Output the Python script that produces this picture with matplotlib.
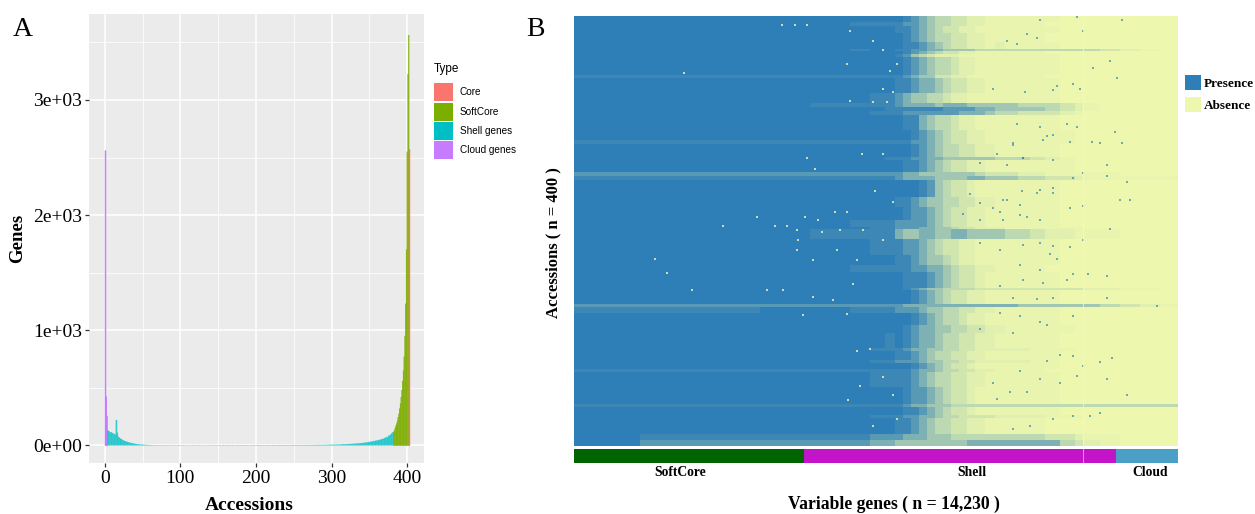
import numpy as np
import matplotlib
matplotlib.use("Agg")
import matplotlib.pyplot as plt
from matplotlib.colors import LinearSegmentedColormap
from matplotlib.patches import Patch

W, H = 1255, 514
plt.rcParams["font.family"] = ["Liberation Serif", "DejaVu Serif"]

# panel A: number of genes found in exactly n accessions
cloud_acc = [1, 2, 3]
cloud_genes = [2560, 423, 256]
shell_first_acc = 4
shell_genes = [
    135, 128, 124, 118, 114, 116, 110, 106, 104, 98,
    96, 220, 220, 112, 78, 72, 66, 60, 56, 52,
    48, 44, 42, 38, 36, 34, 32, 30, 28, 26,
    24, 22, 22, 20, 18, 17, 15, 14, 13, 12,
    11, 10, 10, 9, 9, 8, 8, 7, 7, 6,
    6, 6, 5, 5, 5, 5, 4, 5, 4, 3,
    4, 5, 3, 4, 3, 2, 4, 3, 3, 4,
    2, 3, 4, 3, 2, 3, 3, 2, 4, 3,
    2, 3, 4, 2, 3, 2, 3, 4, 2, 3,
    3, 2, 3, 2, 4, 3, 2, 3, 2, 3,
    4, 2, 3, 3, 2, 3, 2, 4, 2, 3,
    2, 3, 3, 2, 4, 2, 3, 2, 3, 3,
    2, 4, 3, 2, 3, 2, 3, 2, 4, 2,
    3, 3, 2, 3, 2, 4, 3, 2, 3, 3,
    2, 3, 4, 2, 3, 2, 3, 3, 2, 4,
    3, 2, 3, 5, 3, 2, 3, 4, 2, 3,
    3, 4, 2, 3, 2, 4, 3, 3, 2, 3,
    2, 3, 4, 3, 2, 4, 3, 2, 3, 4,
    3, 2, 4, 3, 3,
    4, 3, 2, 3, 4, 3, 2, 4, 3, 3,
    2, 4, 3, 3, 4, 2, 3, 4, 3, 3,
    4, 3, 2, 4, 3, 4, 3, 3, 4, 3,
    4, 2, 3, 4, 5, 3, 4, 3, 4, 3,
    4, 5, 3, 4, 3, 5, 4, 3, 4, 5,
    3, 4, 5, 4, 3, 5, 4, 4, 3, 5,
    4, 5, 3, 4, 5, 4, 4, 5, 3, 5,
    4, 5, 4, 3, 5, 4, 5, 4, 5, 4,
    5, 4, 6, 4, 5, 5, 4, 6, 5, 4,
    6, 5, 5, 6, 4, 6, 5, 6, 5, 6,
    5, 7, 6, 5, 7, 6, 6, 7, 6, 8,
    6, 7, 8, 7, 7, 8, 7, 9, 8, 8,
    9, 8, 10, 9, 9, 11, 10, 12, 10, 11,
    12, 11, 13, 12, 12, 14, 13, 15, 14, 16,
    15, 16, 17, 16, 18, 17, 18, 20, 19, 20,
    22, 21, 23, 24, 22, 25, 27, 26, 28, 30,
    31, 30, 33, 35, 34, 36, 38, 40, 38, 42,
    44, 45, 43, 48, 50, 52, 50, 55, 58, 56,
    62, 65, 70, 68, 76, 72, 84, 90, 86, 96,
    104, 110, 116,
]
soft_genes = [118, 130, 150, 170, 190, 215, 245, 275, 320, 364,
              420, 480, 560, 650, 770, 950, 1230, 1700, 2550, 3223, 3563]
core_genes = [2570]
type_names = ["Core", "SoftCore", "Shell genes", "Cloud genes"]
type_colors = ["#F8766D", "#7CAE00", "#00BFC4", "#C77CFF"]
x_ticks = [0, 100, 200, 300, 400]
y_ticks = [0, 1000, 2000, 3000]
y_tick_labels = ["0e+00", "1e+03", "2e+03", "3e+03"]

# panel B: share of present cells, per block of accessions and genes
gene_edges = [0, 1555, 2969, 4382, 5560, 6503, 6974, 7327, 7563, 7751, 7940,
              8128, 8317, 8505, 8694, 8882, 9070, 9259, 9448, 9683, 9919,
              10154, 10461, 10743, 11097, 11450, 11804, 11992, 12393, 12864,
              13335, 13806, 14230]
level_share = [0, 0.02, 0.06, 0.15, 0.25, 0.4, 0.58, 0.78, 0.92, 1]
band_ends = [6, 9, 16, 24, 31, 33, 35, 38, 55, 58,
             72, 81, 85, 88, 92, 106, 115, 119, 131, 134,
             145, 149, 153, 168, 178, 190, 196, 198, 207, 222,
             232, 238, 253, 255, 268, 271, 276, 287, 295, 309,
             312, 320, 323, 328, 331, 345, 361, 364, 371, 374,
             389, 394, 400]
band_levels = [
    "99999999987654433221111110000000",
    "99999888877654433221111100000000",
    "99999999887654332211111110000000",
    "99999999987654433221111100000000",
    "99999999988765433221211110000000",
    "99999899887766555544444444443210",
    "99999999987654332211111100000000",
    "99999999875432221111111110000000",
    "99999999987654432211111110000000",
    "88888888876553322111111100000000",
    "99999999887665433221111110000000",
    "99999988765544322111111110000000",
    "99998888766665666555554443210000",
    "99999998888888777766555543210000",
    "99999988877777776665443332100000",
    "99999999988654432211111110000000",
    "99999999998765433221111111000000",
    "88888888887765433221111111000000",
    "99999999998765443322111110000000",
    "99999998887766555555444321000000",
    "99999999988765433221111111000000",
    "77777777766555555543332211111000",
    "88888888766665555665554433211111",
    "99999999999875433211111110000000",
    "99999999887655443322111110000000",
    "99999999987765433221111110000000",
    "99999888777765433221111110000000",
    "99999988777665543322211111100000",
    "99998888655665566555544322111000",
    "99999988877654332211111110000000",
    "99999999887655432211111110000000",
    "99999888887766543322111100000000",
    "99999999988876543321111110000000",
    "99999999987655444433333333322110",
    "99999999998765433221111110000000",
    "77777777766666666666665555554321",
    "88899888777655443322111110000000",
    "99999999998765443221111110000000",
    "99999999987665544332211111000000",
    "99999998987665443322111110000000",
    "99999988876655443322222111000000",
    "99999999887654433221111110000000",
    "99999988777655443322222110000000",
    "99999999998765433211111110000000",
    "88888888887665443322111100000000",
    "99999988887654433221111110000000",
    "99999999987765433211111110000000",
    "88888888876655544444444444444444",
    "99999999988765433211111110000000",
    "99999988877665443333222211100000",
    "99999999887654433221111100000000",
    "98888877766655544444444433211000",
    "97777766555555555666666664321000",
]
# single cells, away from the dense part
present_gene = [11841, 12900, 12000, 10977, 10663, 10900, 11762, 11919, 11291, 12782,
                12625, 12233, 11370, 10624, 10192, 10428, 9878, 11841, 11605, 12743,
                12900, 12390, 12194, 11683, 11134, 10977, 10428, 10349, 10585, 11291,
                12547, 12000, 13018, 12547, 11762, 10977, 10545, 10113, 11291, 13097,
                12861, 12000, 11683, 10506, 10035, 10977, 12625, 12000, 11683, 11291,
                10977, 11370, 10977, 10506, 12115, 12547, 11762, 11605, 11055, 10585,
                10035, 12547, 11291, 10899, 10349, 10035, 10506, 10977, 11134, 11762,
                13724, 9564, 10349, 12665, 12390, 11762, 11448, 11134, 12000, 12547,
                11841, 11448, 10977, 10506, 10663, 10270, 9956, 13018, 12390, 12155,
                11762, 10741, 10349, 11291, 9878, 10349, 10585, 11291, 11055, 9956,
                10192, 9564, 11291, 10898, 10506, 10192, 9878, 9564, 10663, 10113,
                9564, 9172, 9329, 10585, 10035, 9564, 11213]
present_acc = [1, 4, 14, 4, 17, 20, 63, 68, 69, 58,
               42, 48, 65, 71, 23, 26, 68, 103, 100, 108,
               118, 118, 117, 117, 112, 103, 100, 120, 132, 134,
               139, 146, 154, 149, 151, 162, 163, 171, 165, 171,
               171, 177, 179, 185, 182, 190, 198, 208, 215, 214,
               211, 226, 236, 232, 240, 242, 240, 246, 248, 246,
               251, 262, 262, 263, 262, 276, 279, 285, 287, 279,
               270, 291, 295, 318, 322, 316, 315, 321, 326, 338,
               335, 341, 338, 330, 350, 350, 356, 353, 369, 372,
               372, 381, 384, 375, 341, 118, 132, 111, 115, 128,
               139, 137, 160, 165, 176, 171, 179, 174, 187, 190,
               190, 184, 166, 213, 218, 211, 221]
absent_gene = [5480, 5676, 6775, 7285, 7089, 7520, 6147, 6421, 4302, 3517,
               4733, 5009, 5244, 5440, 5754, 5283, 5833, 6264, 6814, 7285,
               1908, 5244, 6186, 5636, 6657, 2183, 2771, 4537, 4930, 5636,
               6578, 6107, 5401, 6421, 6500, 7052, 7288, 6424, 7600, 7445,
               7288, 7523, 6502, 7052, 7366, 2600, 4900, 5200, 5500, 6660,
               6974, 7288, 7523, 6463, 6738, 7600, 7052]
absent_acc = [132, 142, 128, 128, 163, 173, 182, 182, 187, 195,
              195, 195, 199, 187, 190, 208, 201, 199, 199, 208,
              226, 218, 218, 227, 227, 239, 255, 255, 255, 261,
              249, 264, 278, 277, 14, 23, 32, 45, 45, 51,
              68, 71, 79, 80, 80, 53, 8, 8, 8, 312,
              310, 336, 353, 357, 344, 375, 381]
group_names = ["SoftCore", "Shell", "Cloud"]
group_ends = [5419, 12770, 14230]
group_label_at = [2497, 9377, 13570]
group_colors = ["#006400", "#C414C9", "#4A9FC6"]
presence_color = "#2E7EB8"
absence_color = "#EDF7AE"


def axes_px(left, top, right, bottom):
    return [left / W, 1 - bottom / H, (right - left) / W, (bottom - top) / H]


fig = plt.figure(figsize=(W / 100, H / 100), dpi=100)

# panel A
ax = fig.add_axes(axes_px(89, 14, 424, 463), facecolor="#EBEBEB")
shell_acc = np.arange(shell_first_acc, shell_first_acc + len(shell_genes))
soft_acc = np.arange(shell_acc[-1] + 1, shell_acc[-1] + 1 + len(soft_genes))
core_acc = [soft_acc[-1] + 1]
ax.bar(cloud_acc, cloud_genes, width=1, color=type_colors[3],
       edgecolor=type_colors[3], linewidth=0.5, snap=False)
ax.bar(shell_acc, shell_genes, width=1, color=type_colors[2], linewidth=0, snap=False)
ax.bar(soft_acc, soft_genes, width=1, color=type_colors[1],
       edgecolor=type_colors[1], linewidth=0.2, snap=False)
ax.bar(core_acc, core_genes, width=1, color=type_colors[0],
       edgecolor=type_colors[0], linewidth=0.5, snap=False)
ax.set_xlim(-20.8, 422.2)
ax.set_ylim(-152, 3746)
ax.set_xticks(x_ticks)
ax.set_yticks(y_ticks, y_tick_labels)
ax.set_xticks([50, 150, 250, 350], minor=True)
ax.set_yticks([500, 1500, 2500, 3500], minor=True)
ax.grid(True, which="major", color="white", linewidth=1.1)
ax.grid(True, which="minor", color="white", linewidth=0.55)
ax.set_axisbelow(True)
ax.tick_params(which="minor", length=0)
ax.tick_params(which="major", length=3, width=0.9, color="#333333", labelsize=14, pad=2)
for side in ax.spines.values():
    side.set_visible(False)
ax.set_xlabel("Accessions", fontsize=14, fontweight="bold", labelpad=7, x=160.5 / 335)
ax.set_ylabel("Genes", fontsize=13.5, fontweight="bold", labelpad=5)
handles = [Patch(facecolor=c, edgecolor="none") for c in type_colors]
leg = fig.legend(handles, type_names, title="Type", loc="upper left",
                 bbox_to_anchor=(433.5 / W, 1 - 63 / H), frameon=False, alignment="left",
                 prop={"family": "Liberation Sans", "size": 7.2},
                 title_fontproperties={"family": "Liberation Sans", "size": 8.5},
                 handlelength=1.9, handleheight=2.4, labelspacing=0.13,
                 handletextpad=0.7, borderpad=0, borderaxespad=0)
leg._legend_box.sep = 6

# panel B
cmap = LinearSegmentedColormap.from_list("pa", [absence_color, presence_color])
share = np.array([[level_share[int(c)] for c in row] for row in band_levels])
hm = fig.add_axes(axes_px(574, 16, 1178, 446))
hm.pcolormesh(gene_edges, [0] + band_ends, share, cmap=cmap, vmin=0, vmax=1)
hm.scatter(present_gene, present_acc, s=2.2, marker="s", color=presence_color,
           linewidths=0, alpha=0.65)
hm.scatter(absent_gene, absent_acc, s=2.2, marker="s", color=absence_color,
           linewidths=0, alpha=0.8)
hm.axvline(11992, color="#F4F8D8", linewidth=0.8, alpha=0.7)
hm.set_xlim(0, 14230)
hm.set_ylim(400, 0)
hm.axis("off")

bar = fig.add_axes(axes_px(574, 449, 1178, 463))
bar.barh(0, np.diff([0] + group_ends), left=[0] + group_ends[:-1], height=1,
         color=group_colors, linewidth=0)
bar.axvline(11992, color="#E28AE4", linewidth=0.8)
bar.set_xlim(0, 14230)
bar.set_ylim(-0.5, 0.5)
bar.set_yticks([])
bar.set_xticks(group_label_at, group_names, fontsize=9.8, fontweight="bold")
bar.tick_params(length=0, pad=2)
for side in bar.spines.values():
    side.set_visible(False)
bar.set_xlabel("Variable genes ( n = 14,230 )", fontsize=12.7, fontweight="bold",
               labelpad=12, x=320 / 604)

fig.text(553 / W, 1 - 243 / H, "Accessions ( n = 400 )", rotation=90, ha="center",
         va="center", fontsize=12, fontweight="bold")
fig.legend([Patch(facecolor=presence_color), Patch(facecolor=absence_color)],
           ["Presence", "Absence"], loc="upper left", bbox_to_anchor=(1185 / W, 1 - 75 / H),
           frameon=False, prop={"family": "Liberation Serif", "size": 9.5, "weight": "bold"},
           handlelength=1.2, handleheight=1.43, labelspacing=0.49, handletextpad=0.25,
           borderpad=0, borderaxespad=0)

fig.text(13 / W, 1 - 36 / H, "A", fontsize=20)
fig.text(526 / W, 1 - 36 / H, "B", fontsize=20)

fig.savefig("out.png", dpi=100)
